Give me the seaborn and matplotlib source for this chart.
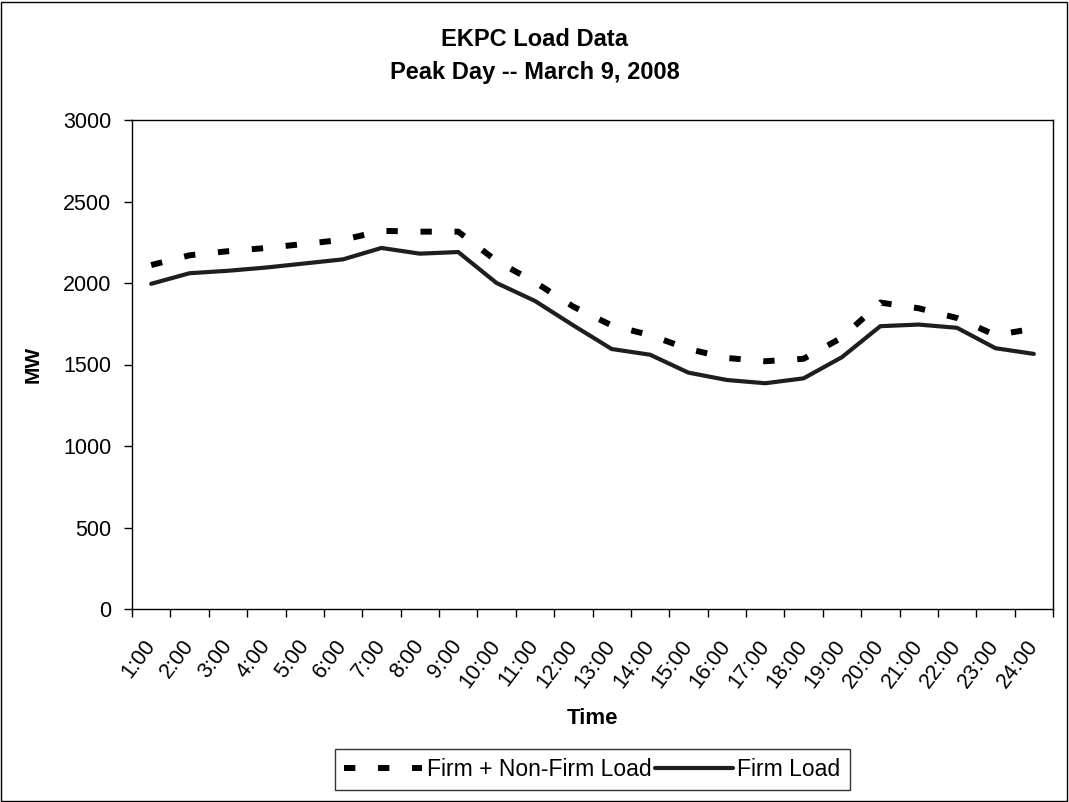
import matplotlib
matplotlib.use("Agg")
import matplotlib.pyplot as plt
from matplotlib.patches import Rectangle
import seaborn as sns
import pandas as pd
import numpy as np

hours = [f"{h}:00" for h in range(1, 25)]
firm_nonfirm = [2110, 2170, 2195, 2215, 2240, 2265, 2320, 2315, 2315, 2135, 2005, 1855,
                1740, 1680, 1595, 1540, 1520, 1535, 1665, 1880, 1845, 1785, 1680, 1720]
firm = [1995, 2060, 2075, 2095, 2120, 2145, 2215, 2180, 2190, 2000, 1890, 1740,
        1595, 1560, 1450, 1405, 1385, 1415, 1545, 1735, 1745, 1725, 1600, 1565]
series_names = ["Firm + Non-Firm Load", "Firm Load"]
y_ticks = [0, 500, 1000, 1500, 2000, 2500, 3000]

sns.set_theme(style="white")
plt.rcParams['font.family'] = ['Liberation Sans', 'DejaVu Sans']
for k in ["text.color", "axes.labelcolor", "xtick.color", "ytick.color"]:
    plt.rcParams[k] = "black"

df = pd.DataFrame({
    "pos": list(range(len(hours))) * 2,
    "MW": firm_nonfirm + firm,
    "series": [series_names[0]] * len(hours) + [series_names[1]] * len(hours),
})

W, H = 1069, 802
fig = plt.figure(figsize=(W / 100, H / 100), dpi=100)
ax = fig.add_axes([132 / W, 1 - 609 / H, (1053 - 132) / W, (609 - 120) / H])

sns.lineplot(data=df[df.series == series_names[0]], x="pos", y="MW", ax=ax,
             color="black", linewidth=4.3, label=series_names[0])
sns.lineplot(data=df[df.series == series_names[1]], x="pos", y="MW", ax=ax,
             color="#1e1e1e", linewidth=3.0, label=series_names[1])
ax.lines[0].set_dashes((1.9, 3.8))
ax.lines[0].set_dash_capstyle("butt")

ax.set_xlim(-0.5, len(hours) - 0.5)
ax.set_ylim(0, 3000)
ax.set_yticks(y_ticks)
ax.set_yticklabels([str(v) for v in y_ticks], fontsize=15.5)
ax.set_xticks(range(len(hours)))
ax.set_xticklabels(hours, rotation=53, ha="right", va="center",
                   rotation_mode="anchor", fontsize=15.5)
ax.set_xticks(np.arange(-0.5, len(hours), 1.0), minor=True)
ax.tick_params(axis="x", which="major", length=0, pad=24)
ax.tick_params(axis="x", which="minor", length=6, width=1, color="black", direction="out", bottom=True)
ax.tick_params(axis="y", which="major", length=6, width=1, color="black", direction="out", left=True, pad=9)

for s in ax.spines.values():
    s.set_visible(True)
    s.set_color("black")
    s.set_linewidth(1.0)

ax.set_xlabel("Time", fontsize=16, fontweight="bold")
ax.xaxis.set_label_coords(0.5, (609 - 708) / (609 - 120))
ax.set_ylabel("MW", fontsize=15, fontweight="bold")
ax.yaxis.set_label_coords((43 - 132) / (1053 - 132), 0.5)

fig.text(0.5, 1 - 40 / H, "EKPC Load Data", ha="center", va="center",
         fontsize=17, fontweight="bold")
fig.text(0.5, 1 - 72 / H, "Peak Day -- March 9, 2008", ha="center", va="center",
         fontsize=17, fontweight="bold")

leg = ax.legend(loc="lower center",
                bbox_to_anchor=(0.5, (609 - 790) / (609 - 120)),
                ncol=2, fontsize=16.5, frameon=True, fancybox=False, handlelength=3.4,
                columnspacing=0.15, handletextpad=0.2, borderpad=0.4, borderaxespad=0)
leg.get_frame().set_edgecolor("black")
leg.get_frame().set_linewidth(1.0)

fig.patches.append(Rectangle((0.001, 0.001), 0.997, 0.997, transform=fig.transFigure,
                             fill=False, edgecolor="black", linewidth=1.0))

fig.savefig("out.png", dpi=100)
